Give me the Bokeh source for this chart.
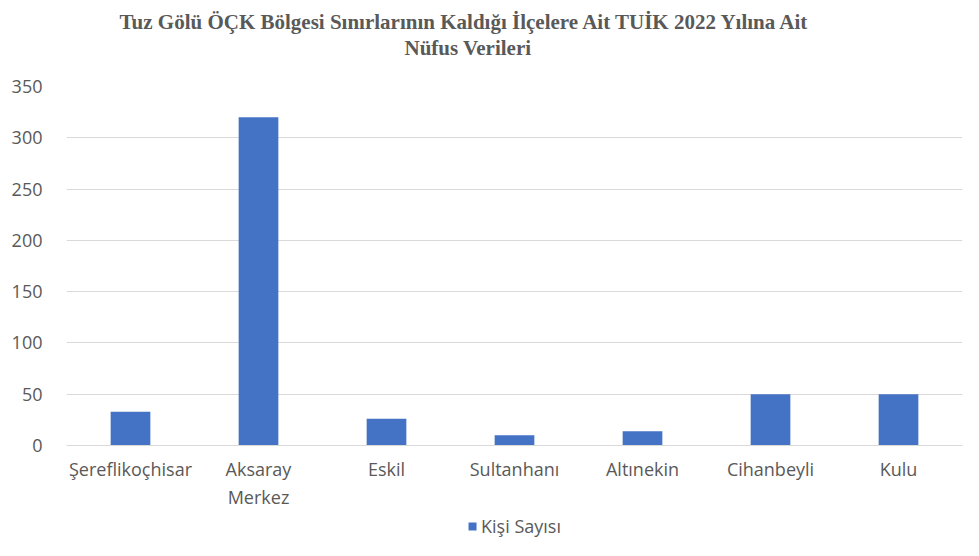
from bokeh.plotting import figure
from bokeh.layouts import column
from bokeh.models import (ColumnDataSource, FactorRange, Range1d, SingleIntervalTicker,
                          Legend, LegendItem, Title)
from bokeh.embed import file_html
from bokeh.resources import INLINE

categories = ["Şereflikoçhisar", "Aksaray\nMerkez", "Eskil", "Sultanhanı",
              "Altınekin", "Cihanbeyli", "Kulu"]
values = [33, 320, 26, 10, 14, 50, 50]
series_name = "Kişi Sayısı"
title_line1 = "Tuz Gölü ÖÇK Bölgesi Sınırlarının Kaldığı İlçelere Ait TUİK 2022 Yılına Ait"
title_line2 = "Nüfus Verileri"
bar_color = "#4472C4"

src = ColumnDataSource(dict(cat=categories, val=values))

p = figure(width=963, height=512,
           x_range=FactorRange(*categories, range_padding=0),
           y_range=Range1d(0, 350), output_backend="svg", toolbar_location=None,
           title=None)
p.min_border_left = 66
p.min_border_right = 1
p.min_border_top = 86
p.min_border_bottom = 67
p.outline_line_color = None
p.background_fill_color = "white"
p.border_fill_color = "white"

r = p.vbar(x="cat", top="val", width=0.31, source=src, fill_color=bar_color,
           line_color=None)

# titles: spacer first (closest to frame), then line 2, then line 1
spacer_top = Title(text=" ", text_font_size="1px", standoff=24)
t2 = Title(text=title_line2, align="left", text_font="Liberation Serif",
           text_font_size="21px", text_font_style="bold", text_color="#595959",
           standoff=0, offset=338)
t1 = Title(text=title_line1, align="left", text_font="Liberation Serif",
           text_font_size="21px", text_font_style="bold", text_color="#595959",
           standoff=0, offset=53)
p.add_layout(spacer_top, "above")
p.add_layout(t2, "above")
p.add_layout(t1, "above")

p.yaxis.ticker = SingleIntervalTicker(interval=50)
p.yaxis.axis_line_color = None
p.yaxis.major_tick_line_color = None
p.yaxis.minor_tick_line_color = None
p.yaxis.major_label_text_font = "Open Sans"
p.yaxis.major_label_text_font_size = "18px"
p.yaxis.major_label_text_color = "#595959"
p.yaxis.major_label_standoff = 18

p.xaxis.axis_line_color = "#d9d9d9"
p.xaxis.major_tick_line_color = None
p.xaxis.minor_tick_line_color = None
p.xaxis.major_label_text_font = "Open Sans"
p.xaxis.major_label_text_font_size = "18px"
p.xaxis.major_label_text_color = "#595959"
p.xaxis.major_label_standoff = 5

p.xgrid.grid_line_color = None
p.ygrid.grid_line_color = "#d9d9d9"

# legend strip below the chart (same series; its bars lie entirely below this strip's range)
lg = figure(width=963, height=28, x_range=FactorRange(*categories, range_padding=0),
            y_range=Range1d(400, 401), output_backend="svg", toolbar_location=None,
            title=None)
lg.min_border_left = 12
lg.min_border_right = 1
lg.min_border_top = 0
lg.min_border_bottom = 0
lg.outline_line_color = None
lg.axis.visible = False
lg.grid.visible = False
lg.border_fill_color = "white"
lr = lg.vbar(x="cat", top="val", width=0.31, source=src, fill_color=bar_color,
             line_color=None)

legend = Legend(items=[LegendItem(label=series_name, renderers=[lr])],
                orientation="horizontal", location="center",
                label_text_font="Open Sans", label_text_font_size="18px",
                label_text_color="#595959", glyph_width=10, glyph_height=10,
                padding=0, margin=0, spacing=4, border_line_color=None,
                background_fill_alpha=0, label_standoff=4)
lg.add_layout(legend, "center")

layout = column(p, lg, spacing=0)
open("out.html", "w").write(file_html(layout, INLINE))
